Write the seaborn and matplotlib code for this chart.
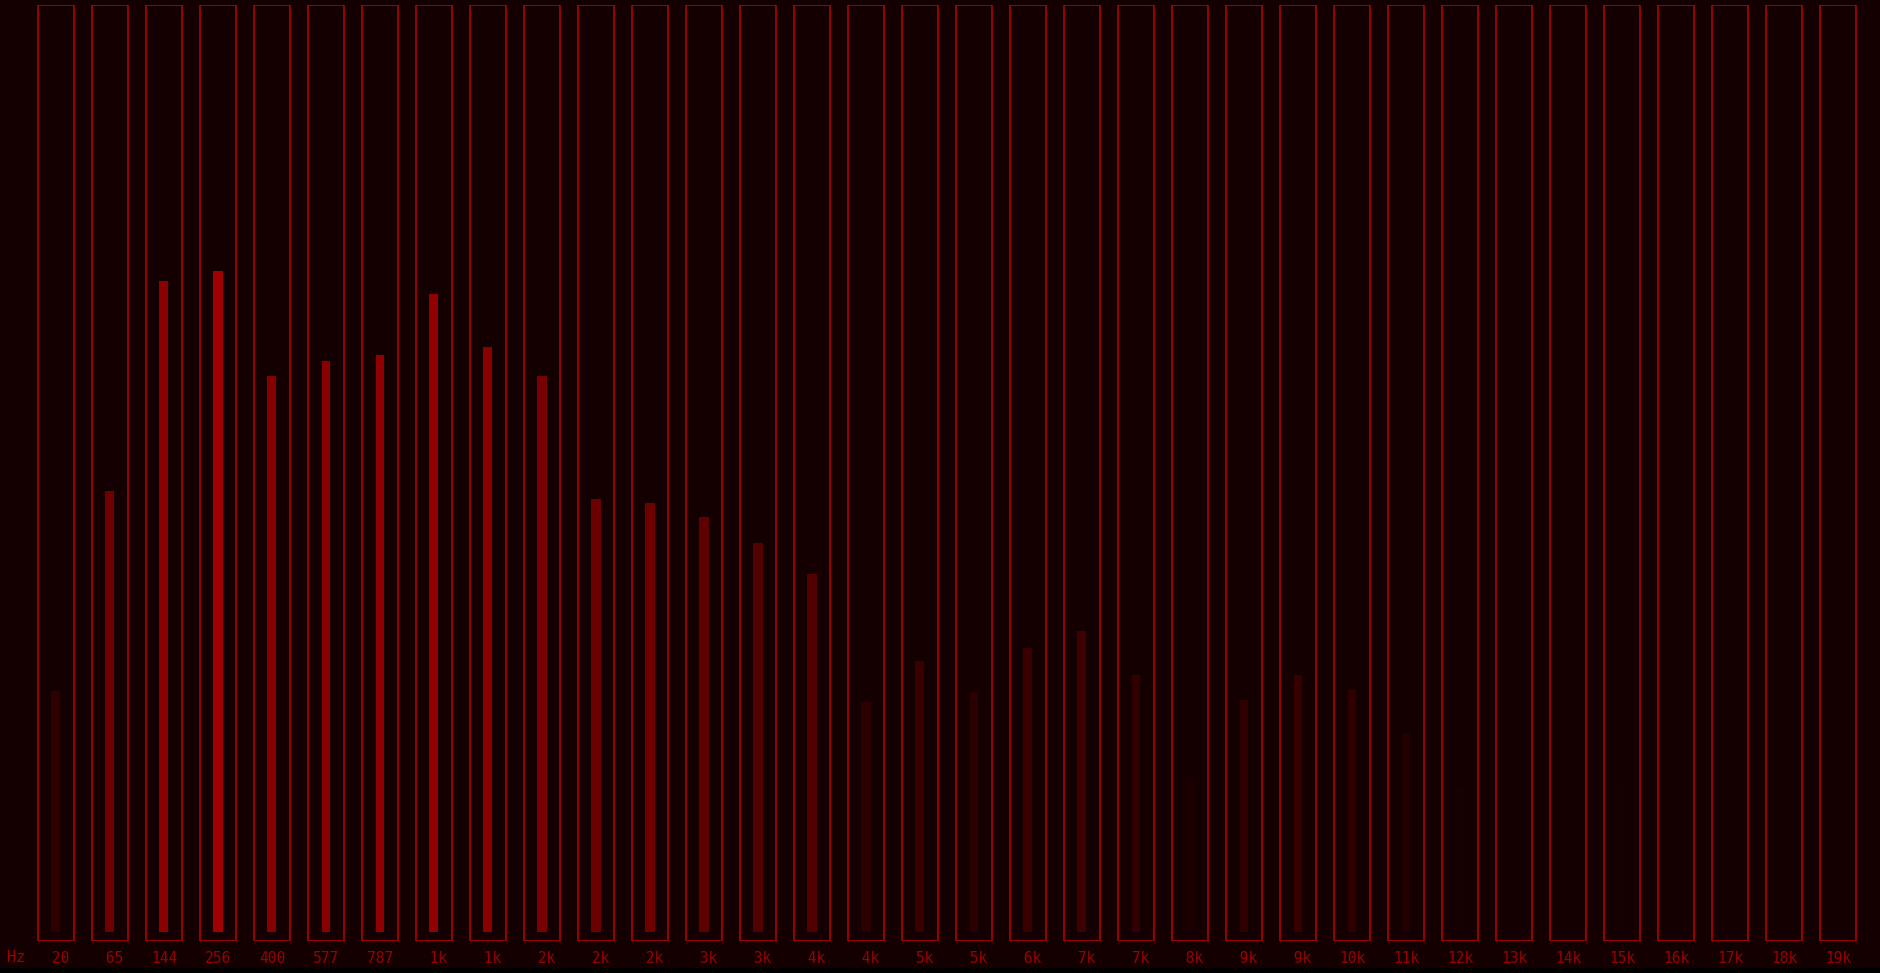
import numpy as np
import pandas as pd
import seaborn as sns
import matplotlib.pyplot as plt
from matplotlib.patches import Rectangle

# band labels under each frame
labels = ["20", "65", "144", "256", "400", "577", "787", "1k", "1k", "2k",
          "2k", "2k", "3k", "3k", "4k", "4k", "5k", "5k", "6k", "7k",
          "7k", "8k", "9k", "9k", "10k", "11k", "12k", "13k", "14k", "15k",
          "16k", "17k", "18k", "19k"]

# bar level (0-100 of the frame height)
values = [26.0, 47.6, 70.2, 71.3, 60.0, 61.6, 62.2, 68.8, 63.1, 60.0,
          46.7, 46.3, 44.7, 41.9, 38.6, 24.8, 29.2, 25.9, 30.6, 32.5,
          27.7, 16.8, 25.0, 27.7, 26.2, 21.4, 15.6, 0.0, 0.0, 16.2,
          0.0, 0.0, 0.0, 0.0]

# brightness of each bar (red channel, 0-255)
brightness = [46, 110, 139, 160, 135, 138, 144, 146, 138, 120,
              106, 110, 94, 82, 82, 44, 58, 44, 58, 62,
              50, 28, 48, 54, 48, 34, 23, 20, 20, 23,
              20, 20, 20, 20]

BG = "#140000"
FRAME = "#c00000"
TEXT = "#9a0000"

df = pd.DataFrame({
    "band": [str(i) for i in range(len(labels))],
    "value": values,
})
pal = {b: (v / 255, 0, 0) for b, v in zip(df["band"], brightness)}

W, H = 1881, 973
fig = plt.figure(figsize=(W / 100, H / 100), dpi=100, facecolor=BG)
pitch = 54
left = 29
ax = fig.add_axes([left / W, 1 - 941 / H, len(labels) * pitch / W, 936 / H])
ax.set_facecolor(BG)

sns.barplot(data=df, x="band", y="value", hue="band", palette=pal,
            legend=False, width=9 / pitch, saturation=1, ax=ax)

# frames around every band
ax.bar(range(len(labels)), 101, bottom=-1, width=36 / pitch, fill=False,
       edgecolor=FRAME, linewidth=1.1)

ax.set_xlim(-0.5, len(labels) - 0.5)
ax.set_ylim(-1, 100)
for s in ax.spines.values():
    s.set_visible(False)
ax.set_yticks([])
ax.set_xticks(range(len(labels)))
ax.set_xticklabels([l.rjust(3) for l in labels], family="DejaVu Sans Mono",
                   fontsize=10.5, color=TEXT)
ax.tick_params(axis="x", length=0, pad=7.5)
ax.set_xlabel("")
ax.set_ylabel("")

fig.text(16 / W, 1 - 958 / H, "Hz", family="DejaVu Sans Mono", fontsize=11,
         color=TEXT, ha="center", va="center")

# black strip at the very bottom
fig.patches.append(Rectangle((0, 0), 1, 5 / H, transform=fig.transFigure,
                             facecolor="black", edgecolor="none"))

fig.savefig("out.png", dpi=100, facecolor=BG)
